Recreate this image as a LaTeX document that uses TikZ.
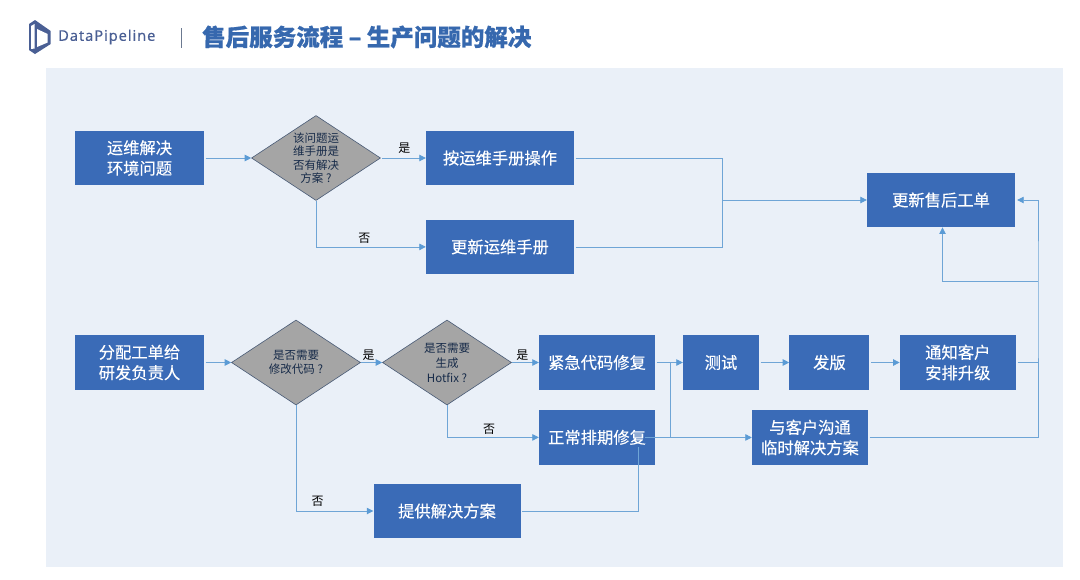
\documentclass[tikz,border=0pt]{standalone}
\usepackage{fontspec}
\usepackage{xcolor}
\setmainfont{Noto Sans CJK SC}
\newfontfamily\latinfont[LetterSpace=6,FakeBold=0.2]{Noto Sans}
\newfontfamily\boxfont[FakeBold=0.25]{Noto Sans CJK SC}
\newfontfamily\titlefont[BoldFeatures={FakeBold=0.7}]{Noto Sans CJK SC}
\usetikzlibrary{positioning, shapes.geometric, arrows.meta}
\definecolor{boxblue}{HTML}{3A6BB7}
\definecolor{panelblue}{HTML}{EAF0F8}
\definecolor{linkblue}{HTML}{6FA5D6}
\definecolor{tipblue}{HTML}{5B9BD5}
\definecolor{diamondgray}{HTML}{A5A5A5}
\definecolor{titleblue}{HTML}{3668AE}
\definecolor{brandblue}{HTML}{4A5F94}

\begin{document}
\begin{tikzpicture}[
        x=1pt, y=-1pt,
        node distance=30pt and 30pt,
        box/.style={draw=none, fill=boxblue, text=white, rectangle, minimum height=54.5pt, inner sep=0pt, align=center, font=\boxfont\fontsize{16.3}{20.5}\selectfont},
        decision/.style={draw=black!40!boxblue!60!gray, line width=0.6pt, fill=diamondgray, text=black!60!boxblue, diamond, aspect=1.5, inner sep=0pt, minimum width=129pt, minimum height=85pt, align=center, font=\fontsize{11.5}{14}\selectfont},
        tag/.style={font=\fontsize{12}{13}\selectfont, text=black, inner sep=0pt},
        link/.style={draw=linkblue, line width=0.8pt, shorten <=1.5pt},
        arrow/.style={link, -{Triangle[length=6.5pt,width=6.5pt,color=tipblue]}, shorten >=0pt}
    ]

    \useasboundingbox (0,0) rectangle (1080,579);
    \fill[panelblue] (46,68) rectangle (1063,567);

    % header
    \fill[brandblue] (29,24) -- (35,20) -- (50.7,31) -- (50.7,44) -- (35,54) -- (29,50) -- cycle;
    \fill[white] (31,26) -- (34.5,24) -- (34.5,48.5) -- (31,49) -- cycle;
    \fill[white] (37,29) -- (47.7,34) -- (47.7,42.5) -- (37,47) -- cycle;
    \node[font=\latinfont\fontsize{14.7}{16}\selectfont, text=brandblue, inner sep=0pt, anchor=west] (brand) at (58,37) {DataPipeline};
    \draw[gray!70!boxblue, line width=0.8pt] (181,28) -- (181,48);
    \node[font=\titlefont\fontsize{23.5}{26}\selectfont\bfseries, text=titleblue, inner sep=0pt, anchor=west] (title) at (202,37) {售后服务流程 – 生产问题的解决};

    % upper row
    \node[box, minimum width=129pt] (ops) at (139.5,158) {运维解决\\环境问题};
    \node[decision, font=\fontsize{11.5}{13.5}\selectfont] (manual) at (316,158) {该问题运\\维手册是\\否有解决\\方案 ?};
    \node[box, minimum width=148pt] (follow) at (500,158) {按运维手册操作};
    \node[box, minimum width=148pt, below=34pt of follow] (update) {更新运维手册};
    \node[box, minimum width=148pt] (ticket) at (941,200) {更新售后工单};

    % lower row
    \node[box, minimum width=129pt] (assign) at (139.5,362.5) {分配工单给\\研发负责人};
    \node[decision] (change) at (296,362.5) {是否需要\\修改代码 ?};
    \node[decision, font=\fontsize{11.5}{15}\selectfont] (hotfix) at (447,362.5) {是否需要\\生成\\Hotfix ?};
    \node[box, minimum width=116pt] (urgent) at (597,362.5) {紧急代码修复};
    \node[box, minimum width=116pt, below=20pt of urgent] (normal) {正常排期修复};
    \node[box, minimum width=147pt] (solution) at (447,511) {提供解决方案};
    \node[box, minimum width=76pt] (testing) at (721,362.5) {测试};
    \node[box, minimum width=80pt, right=30pt of testing] (release) {发版};
    \node[box, minimum width=116pt, right=30pt of release] (notify) {通知客户\\安排升级};
    \node[box, minimum width=116pt] (talk) at (810,437.5) {与客户沟通\\临时解决方案};

    % connectors
    \coordinate (merge) at (722,200);
    \coordinate (rail) at (1038,281);
    \coordinate (join) at (670,437.5);
    \coordinate (inner) at (638,447);

    \draw[arrow] (ops) -- (manual);
    \draw[arrow] (manual) -- node[tag, above=4pt, xshift=1pt] (yes1) {是} (follow);
    \draw[arrow, shorten <=0pt] (manual.south) |- node[tag, pos=0.72, above=3pt] (no1) {否} (update.west);
    \draw[link] (follow.east) -| (merge);
    \draw[link] (update.east) -| (merge);
    \draw[arrow, shorten <=0pt] (merge) -- (ticket.west);

    \draw[arrow] (assign) -- (change);
    \draw[arrow, shorten <=0pt] (change) -- node[tag, above=2pt, xshift=-3pt] (yes2) {是} (hotfix);
    \draw[arrow, shorten <=0pt] (hotfix) -- node[tag, above=2pt, xshift=-3pt] (yes3) {是} (urgent);
    \draw[arrow, shorten <=0pt] (hotfix.south) |- node[tag, pos=0.73, above=3pt] (no2) {否} (normal.west);
    \draw[arrow, shorten <=0pt] (change.south) |- node[tag, pos=0.64, above=4pt] (no3) {否} (solution.west);
    \draw[link] (solution.east) -| (inner);
    \draw[arrow] (urgent) -- (testing);
    \draw[link, shorten <=0pt] (join) -- (join |- urgent);
    \draw[arrow, shorten <=0pt] ([xshift=-10pt]normal.east) -- (talk);
    \draw[arrow] (testing) -- (release);
    \draw[arrow] (release) -- (notify);
    \draw[link] (notify.east) -- (notify.east -| rail);
    \draw[arrow, shorten >=2pt] (talk.east) -| (rail) |- (ticket.east);
    \draw[arrow, shorten <=0pt, shorten >=0pt] (rail) -| (ticket.south -| 942.5,0);

\end{tikzpicture}
\end{document}
